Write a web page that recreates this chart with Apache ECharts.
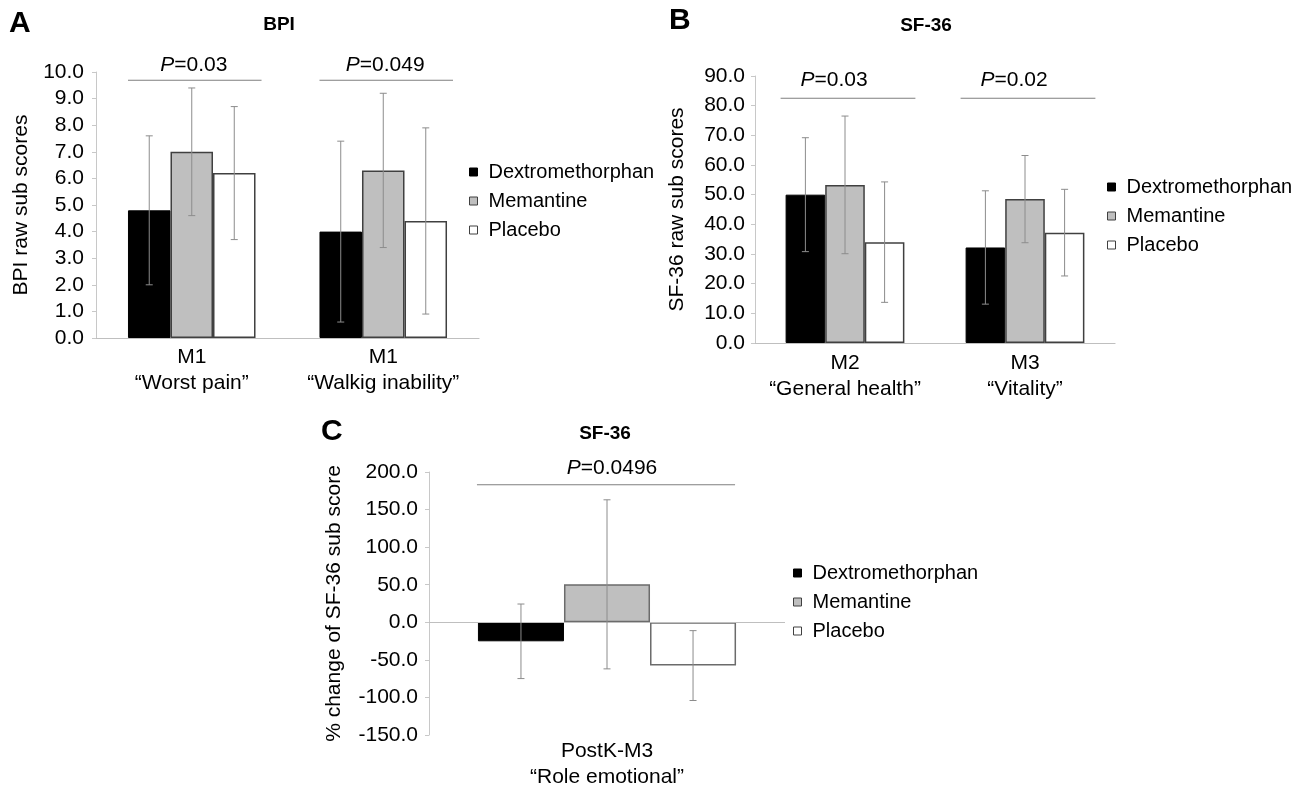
<!DOCTYPE html>
<html><head><meta charset="utf-8">
<script src="https://cdn.jsdelivr.net/npm/echarts@6/dist/echarts.min.js"></script>
<style>html,body{margin:0;padding:0;background:#fff}#c{width:1309px;height:790px}</style>
</head><body><div id="c"></div>
<script>
// ---------- data ----------
const seriesNames = ['Dextromethorphan', 'Memantine', 'Placebo'];

// Panel A: BPI
const catsA = ['M1\n“Worst pain”', 'M1\n“Walkig inability”'];
const meanA_dex = [4.8, 4.0];
const meanA_mem = [7.0, 6.3];
const meanA_pla = [6.2, 4.4];
const sdA_dex = [2.8, 3.4];
const sdA_mem = [2.4, 2.9];
const sdA_pla = [2.5, 3.5];
const pA = ['0.03', '0.049'];

// Panel B: SF-36 raw
const catsB = ['M2\n“General health”', 'M3\n“Vitality”'];
const meanB_dex = [50.0, 32.2];
const meanB_mem = [53.3, 48.5];
const meanB_pla = [34.0, 37.2];
const sdB_dex = [19.2, 19.1];
const sdB_mem = [23.2, 14.7];
const sdB_pla = [20.3, 14.6];
const pB = ['0.03', '0.02'];

// Panel C: SF-36 % change
const catsC = ['PostK-M3\n“Role emotional”'];
const meanC_dex = [-25.3];
const meanC_mem = [50.5];
const meanC_pla = [-57.6];
const sdC_dex = [49.6];
const sdC_mem = [112.5];
const sdC_pla = [46.5];
const pC = ['0.0496'];

const yTicksA = {min: 0, max: 10, interval: 1};
const yTicksB = {min: 0, max: 90, interval: 10};
const yTicksC = {min: -150, max: 200, interval: 50};

// ---------- styling / layout ----------
const FONT = 'Liberation Sans, Arial, Helvetica, sans-serif';
const FS = 21;
const FSL = 20;
const barStyles = [
  {color: '#000000', borderColor: '#000000', borderWidth: 1},
  {color: '#bfbfbf', borderColor: '#404040', borderWidth: 1.5},
  {color: '#ffffff', borderColor: '#404040', borderWidth: 1.5}
];
const barStylesC = [
  {color: '#000000', borderColor: '#000000', borderWidth: 1},
  {color: '#bfbfbf', borderColor: '#6b6b6b', borderWidth: 1.5},
  {color: '#ffffff', borderColor: '#6b6b6b', borderWidth: 1.5}
];
const legendStyles = [
  {color: '#000000', borderColor: '#000000', borderWidth: 1},
  {color: '#bfbfbf', borderColor: '#404040', borderWidth: 1},
  {color: '#ffffff', borderColor: '#404040', borderWidth: 1}
];

const panels = [
  {cats: catsA, means: [meanA_dex, meanA_mem, meanA_pla], sds: [sdA_dex, sdA_mem, sdA_pla], p: pA, ticks: yTicksA,
   grid: {left: 96, top: 72, width: 383, height: 266}, gap: 0.334, yName: 'BPI raw sub scores', nameGap: 64, labelMargin: 12,
   pLevel: 9.69, extL: 0, extR: 6, textDx: 2, textDy: 15, styles: barStyles, zeroLine: false, catMargin: 6},
  {cats: catsB, means: [meanB_dex, meanB_mem, meanB_pla], sds: [sdB_dex, sdB_mem, sdB_pla], p: pB, ticks: yTicksB,
   grid: {left: 755, top: 76, width: 360, height: 267}, gap: 0.34, yName: 'SF-36 raw sub scores', nameGap: 67, labelMargin: 10,
   pLevel: 82.5, extL: 5, extR: 11, textDx: -11, textDy: 18, styles: barStyles, zeroLine: false, catMargin: 7},
  {cats: catsC, means: [meanC_dex, meanC_mem, meanC_pla], sds: [sdC_dex, sdC_mem, sdC_pla], p: pC, ticks: yTicksC,
   grid: {left: 429, top: 472, width: 356, height: 267}, gap: 0.275, yName: '% change of SF-36 sub score', nameGap: 84, labelMargin: 11,
   pLevel: 183, extL: 1, extR: -1, textDx: 5, textDy: 17, styles: barStylesC, zeroLine: true, catMargin: 3}
];

function errRender(gap) {
  return function (params, api) {
    const i = api.value(0), m = api.value(1), sd = api.value(2), k = api.value(3);
    const band = api.size([1, 0])[0];
    const bw = band * (1 - gap) / 3;
    const x = api.coord([i, m])[0] + k * bw;
    const yh = api.coord([i, m + sd])[1];
    const yl = api.coord([i, m - sd])[1];
    const cap = 3.5;
    const st = {stroke: '#8c8c8c', lineWidth: 1};
    return {type: 'group', children: [
      {type: 'line', shape: {x1: x, y1: yh, x2: x, y2: yl}, style: st},
      {type: 'line', shape: {x1: x - cap, y1: yh, x2: x + cap, y2: yh}, style: st},
      {type: 'line', shape: {x1: x - cap, y1: yl, x2: x + cap, y2: yl}, style: st}
    ]};
  };
}

function pRender(pn) {
  return function (params, api) {
    const i = api.value(0), v = api.value(1);
    const band = api.size([1, 0])[0];
    const half = band * (1 - pn.gap) / 2;
    const c = api.coord([i, v]);
    return {type: 'group', children: [
      {type: 'line', shape: {x1: c[0] - half - pn.extL, y1: c[1], x2: c[0] + half + pn.extR, y2: c[1]},
       style: {stroke: '#7f7f7f', lineWidth: 1.2}},
      {type: 'text', x: c[0] + pn.textDx, y: c[1] - pn.textDy,
       style: {text: '{i|P}=' + pn.p[params.dataIndex], fill: '#000', fontSize: FS, fontFamily: FONT,
               align: 'center', verticalAlign: 'middle',
               rich: {i: {fontStyle: 'italic', fontSize: FS, fontFamily: FONT, fill: '#000'}}}}
    ]};
  };
}

const grids = [], xAxes = [], yAxes = [], series = [];
panels.forEach((pn, g) => {
  grids.push(Object.assign({containLabel: false}, pn.grid));
  xAxes.push({
    type: 'category', gridIndex: g, data: pn.cats,
    axisLine: pn.zeroLine ? {show: false, onZero: false} : {show: true, lineStyle: {color: '#bfbfbf', width: 1.2}},
    axisTick: {show: false},
    axisLabel: {color: '#000', fontSize: FS, fontFamily: FONT, lineHeight: 26, margin: pn.catMargin, interval: 0}
  });
  yAxes.push({
    type: 'value', gridIndex: g, min: pn.ticks.min, max: pn.ticks.max, interval: pn.ticks.interval,
    name: pn.yName, nameLocation: 'middle', nameGap: pn.nameGap, nameRotate: 90,
    nameTextStyle: {color: '#000', fontSize: FS, fontFamily: FONT},
    axisLine: {show: true, lineStyle: {color: '#c8c8c8', width: 1}},
    axisTick: {show: true, length: 4, lineStyle: {color: '#c8c8c8'}},
    splitLine: {show: false},
    axisLabel: {color: '#000', fontSize: FS, fontFamily: FONT, margin: pn.labelMargin,
      formatter: v => v.toFixed(1)}
  });
  seriesNames.forEach((nm, k) => {
    const s = {
      type: 'bar', name: nm, xAxisIndex: g, yAxisIndex: g, data: pn.means[k],
      barGap: '0%', barCategoryGap: (pn.gap * 100) + '%',
      itemStyle: pn.styles[k], z: 2, silent: true
    };
    if (pn.zeroLine && k === 0) {
      s.markLine = {silent: true, symbol: 'none', label: {show: false},
        lineStyle: {color: '#bfbfbf', type: 'solid', width: 1.2}, data: [{yAxis: 0}]};
    }
    series.push(s);
  });
  const errData = [];
  seriesNames.forEach((nm, k) => {
    pn.means[k].forEach((m, i) => errData.push([i, m, pn.sds[k][i], k - 1]));
  });
  series.push({type: 'custom', name: 'err' + g, xAxisIndex: g, yAxisIndex: g, data: errData,
    renderItem: errRender(pn.gap), z: 5, silent: true, clip: false});
  series.push({type: 'custom', name: 'p' + g, xAxisIndex: g, yAxisIndex: g,
    data: pn.p.map((_, i) => [i, pn.pLevel]), renderItem: pRender(pn), z: 5, silent: true, clip: false});
});

function legendAt(left, top) {
  return {
    orient: 'vertical', left: left, top: top, padding: 0, itemWidth: 8, itemHeight: 8, itemGap: 9, icon: 'rect',
    selectedMode: false,
    textStyle: {color: '#000', fontSize: FSL, fontFamily: FONT, lineHeight: 20, padding: [0, 0, 0, 6]},
    data: seriesNames.map((n, k) => ({name: n, itemStyle: legendStyles[k]}))
  };
}

const titleStyle = {color: '#000', fontFamily: FONT, fontWeight: 'bold'};
const option = {
  backgroundColor: '#ffffff',
  animation: false,
  title: [
    {text: 'A', left: 9, top: 9, padding: 0, textStyle: Object.assign({fontSize: 30}, titleStyle)},
    {text: 'BPI', left: 279, top: 15, padding: 0, textAlign: 'center', textStyle: Object.assign({fontSize: 19}, titleStyle)},
    {text: 'B', left: 669, top: 6, padding: 0, textStyle: Object.assign({fontSize: 30}, titleStyle)},
    {text: 'SF-36', left: 926, top: 16, padding: 0, textAlign: 'center', textStyle: Object.assign({fontSize: 19}, titleStyle)},
    {text: 'C', left: 321, top: 417, padding: 0, textStyle: Object.assign({fontSize: 30}, titleStyle)},
    {text: 'SF-36', left: 605, top: 424, padding: 0, textAlign: 'center', textStyle: Object.assign({fontSize: 19}, titleStyle)}
  ],
  legend: [legendAt(469, 162), legendAt(1107, 177), legendAt(793, 563)],
  grid: grids, xAxis: xAxes, yAxis: yAxes, series: series
};
const chart = echarts.init(document.getElementById('c'), null, {renderer: 'canvas'});
chart.setOption(option);
</script></body></html>
